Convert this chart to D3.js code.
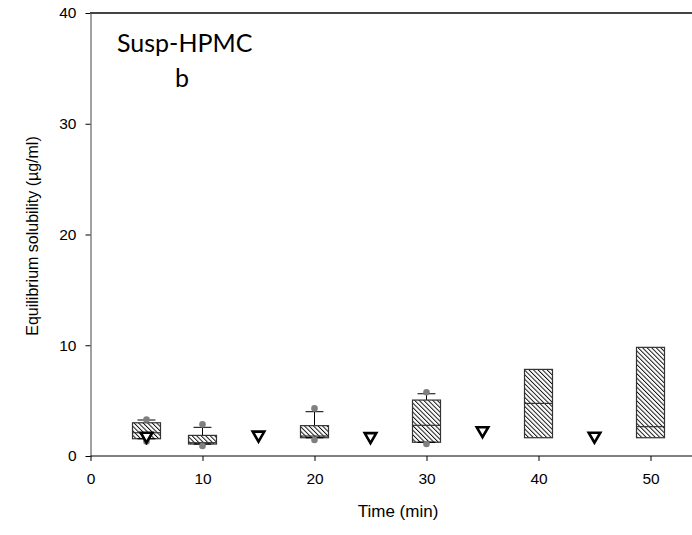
<!DOCTYPE html>
<html>
<head>
<meta charset="utf-8">
<script src="https://cdn.jsdelivr.net/npm/d3@7"></script>
<style>
  html, body { margin: 0; padding: 0; background: #fff; }
  svg { display: block; }
</style>
</head>
<body>
<svg id="chart" width="692" height="535"></svg>
<script>
// ---- Data ----
const boxTimes   = [5, 10, 20, 30, 40, 50];
const boxLow     = [1.56, 1.08, 1.65, 1.24, 1.65, 1.65];   // 25th percentile
const boxMedian  = [2.1, 1.2, 1.8, 2.77, 4.75, 2.65];
const boxHigh    = [3.0, 1.86, 2.74, 5.05, 7.82, 9.81];    // 75th percentile
const whiskerTop = [3.25, 2.59, 4.0, 5.62, null, null];
const whiskerBot = [1.56, 1.08, 1.65, 1.24, null, null];
const outlierHi  = [3.3, 2.86, 4.3, 5.75, null, null];
const outlierLo  = [1.3, 0.9, 1.44, 1.08, null, null];

const triTimes   = [5, 15, 25, 35, 45];
const triValues  = [1.8, 1.9, 1.76, 2.3, 1.8];

const xTicks = [0, 10, 20, 30, 40, 50];
const yTicks = [0, 10, 20, 30, 40];

// ---- Layout ----
const svg = d3.select("#chart");
const x = d3.scaleLinear().domain([0, 50]).range([90.5, 650.5]);
const y = d3.scaleLinear().domain([0, 40]).range([456, 13]);
const xEnd = 692;

// hatch pattern ("\\\" direction)
const defs = svg.append("defs");
const hs = 3.2;
const pat = defs.append("pattern")
  .attr("id", "hatch")
  .attr("patternUnits", "userSpaceOnUse")
  .attr("width", hs).attr("height", hs)
  .attr("patternTransform", "rotate(-45)");
pat.append("rect").attr("width", hs).attr("height", hs).attr("fill", "#fff");
pat.append("line").attr("x1", 0.5).attr("y1", 0).attr("x2", 0.5).attr("y2", hs)
  .attr("stroke", "#000").attr("stroke-width", 0.9);

// Axes
const fontAx = "Liberation Sans, Arial, sans-serif";
const yAxis = d3.axisLeft(y).tickValues(yTicks).tickSize(5).tickPadding(9).tickSizeOuter(0);
const gy = svg.append("g").attr("transform", "translate(90.5,0)").call(yAxis);
gy.select(".domain").attr("stroke", "#444");
gy.selectAll(".tick line").attr("stroke", "#000");
gy.selectAll("text").attr("font-family", fontAx).attr("font-size", 15.5).attr("fill", "#000");

const xAxis = d3.axisBottom(x).tickValues(xTicks).tickSize(5).tickPadding(12).tickSizeOuter(0);
const gx = svg.append("g").attr("transform", "translate(0,456)").call(xAxis);
gx.select(".domain").attr("d", `M90.5,0H${xEnd}`).attr("stroke", "#000");
gx.selectAll(".tick line").attr("stroke", "#000");
gx.selectAll("text").attr("font-family", fontAx).attr("font-size", 15.5).attr("fill", "#000");

// top frame line
svg.append("line").attr("x1", 90).attr("x2", xEnd).attr("y1", y(40)).attr("y2", y(40))
  .attr("stroke", "#444").attr("stroke-width", 2);

// Boxes
const bw = x(2.5) - x(0);
const capW = x(1.6) - x(0);
const boxes = boxTimes.map((t, i) => ({
  t, lo: boxLow[i], med: boxMedian[i], hi: boxHigh[i],
  wt: whiskerTop[i], wb: whiskerBot[i], oh: outlierHi[i], ol: outlierLo[i]
}));

const gb = svg.append("g");
boxes.forEach(d => {
  const cx = x(d.t);
  if (d.wt != null) {
    gb.append("line").attr("x1", cx).attr("x2", cx).attr("y1", y(d.hi)).attr("y2", y(d.wt))
      .attr("stroke", "#000").attr("stroke-width", 1);
    gb.append("line").attr("x1", cx - capW / 2).attr("x2", cx + capW / 2)
      .attr("y1", y(d.wt)).attr("y2", y(d.wt)).attr("stroke", "#000").attr("stroke-width", 1);
  }
  gb.append("rect").attr("x", cx - bw / 2).attr("width", bw)
    .attr("y", y(d.hi)).attr("height", y(d.lo) - y(d.hi))
    .attr("fill", "url(#hatch)").attr("stroke", "#333").attr("stroke-width", 1.2);
  gb.append("line").attr("x1", cx - bw / 2).attr("x2", cx + bw / 2)
    .attr("y1", y(d.med)).attr("y2", y(d.med)).attr("stroke", "#333").attr("stroke-width", 1.2);
  if (d.wb != null) {
    gb.append("line").attr("x1", cx - capW / 2).attr("x2", cx + capW / 2)
      .attr("y1", y(d.wb)).attr("y2", y(d.wb)).attr("stroke", "#000").attr("stroke-width", 1.2);
  }
  [d.oh, d.ol].forEach(v => {
    if (v != null) gb.append("circle").attr("cx", cx).attr("cy", y(v)).attr("r", 3.3)
      .attr("fill", "#808080");
  });
});

// Triangles (down)
const triSym = d3.symbol().type(d3.symbolTriangle).size(58);
svg.append("g").selectAll("path").data(triTimes.map((t, i) => ({ t, v: triValues[i] })))
  .join("path")
  .attr("d", triSym)
  .attr("transform", d => `translate(${x(d.t)},${y(d.v)}) rotate(180)`)
  .attr("fill", "#fff").attr("stroke", "#000").attr("stroke-width", 2.6)
  .attr("stroke-linejoin", "miter");

// Titles
svg.append("text").attr("x", 398).attr("y", 517).attr("text-anchor", "middle")
  .attr("font-family", fontAx).attr("font-size", 17)
  .text("Time (min)");
svg.append("text").attr("transform", `translate(38,236) rotate(-90)`).attr("text-anchor", "middle")
  .attr("font-family", fontAx).attr("font-size", 16)
  .text("Equilibrium solubility (µg/ml)");

svg.append("text").attr("x", 117).attr("y", 52)
  .attr("font-family", "Lato, 'Open Sans', sans-serif").attr("font-size", 25)
  .text("Susp-HPMC");
svg.append("text").attr("x", 182).attr("y", 87).attr("text-anchor", "middle")
  .attr("font-family", "Lato, 'Open Sans', sans-serif").attr("font-size", 25)
  .text("b");
</script>
</body>
</html>
